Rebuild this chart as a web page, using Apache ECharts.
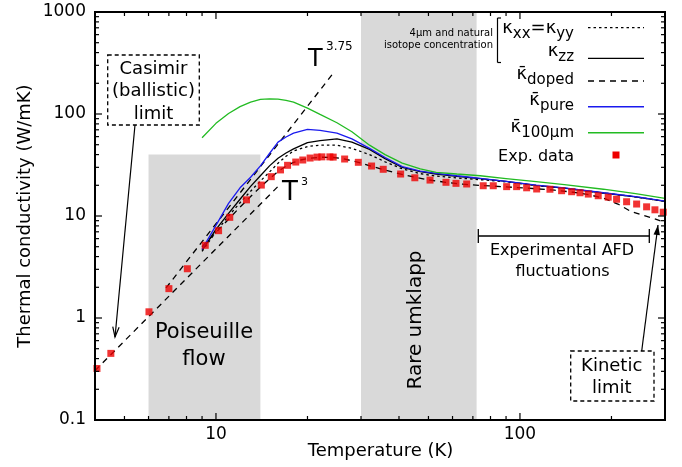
<!DOCTYPE html>
<html>
<head>
<meta charset="utf-8">
<script src="https://cdn.jsdelivr.net/npm/echarts@6/dist/echarts.min.js"></script>
<style>
  html, body { margin: 0; padding: 0; background: #fff; }
  #chart { width: 682px; height: 467px; }
</style>
</head>
<body>
<div id="chart"></div>
<script>
const FONT = '"DejaVu Sans", "Liberation Sans", sans-serif';

// Axis extents (log scales)
const xMin = 4, xMax = 300;
const yMin = 0.1, yMax = 1000;

// Measured thermal conductivity
const expT = [4.06, 4.51, 6.02, 7.0, 8.05, 9.22, 10.2, 11.1, 12.6, 14.1, 15.2, 16.3, 17.2, 18.3, 19.3,
  20.4, 21.5, 22.3, 23.7, 24.3, 26.5, 29.4, 32.5, 35.5, 40.5, 45.1, 50.6, 57.1, 61.6, 66.8, 75.7,
  81.7, 90.4, 97.5, 105.2, 113.5, 125.5, 137.1, 147.9, 157.6, 167.8, 180.9, 195.1, 207.9, 224.3,
  242, 261, 278, 296];
const expK = [0.32, 0.45, 1.15, 1.94, 3.04, 5.16, 7.18, 9.7, 14.4, 20.1, 24.3, 28.3, 31.4, 33.8, 35.4,
  37.0, 37.8, 38.0, 38.0, 37.8, 36.2, 33.6, 30.9, 28.7, 25.8, 23.7, 22.5, 21.4, 20.9, 20.6, 19.8,
  19.8, 19.4, 19.4, 18.9, 18.4, 18.3, 17.7, 17.3, 16.9, 16.4, 15.8, 15.3, 14.6, 13.8,
  13.1, 12.3, 11.5, 10.9];

// Computed conductivities
const curveT = [9, 10, 11, 12, 13, 14, 15, 16, 17, 18, 20, 22, 25, 28, 32, 36, 41, 47, 53, 62, 74, 90, 113, 140, 188, 240, 300];
const kappaXX   = [4.5, 7.0, 10.0, 13.5, 17.5, 22.0, 27.0, 32.9, 38.5, 43.5, 48.0, 49.5, 49.5, 46.0, 40.0, 34.0, 29.0, 26.0, 24.6, 23.6, 22.7, 21.6, 19.9, 18.7, 16.8, 15.4, 13.9];
const kappaZZ   = [4.6, 7.4, 10.6, 14.6, 19.5, 24.8, 31.0, 36.8, 41.5, 45.5, 52.5, 54.8, 57.0, 53.0, 45.0, 36.5, 30.0, 27.2, 25.8, 24.5, 23.2, 21.8, 20.0, 18.8, 16.8, 15.4, 13.9];
const kappaPure = [4.7, 8.1, 13.3, 18.9, 24.0, 31.0, 41.0, 53.0, 59.5, 65.0, 70.8, 69.0, 65.0, 57.0, 46.0, 37.5, 30.5, 27.6, 26.2, 24.8, 23.4, 21.9, 20.1, 18.9, 16.9, 15.5, 14.0];
const kappa100  = [58.6, 81, 101, 118, 131, 139, 141, 140, 136, 131, 114, 99, 82, 67, 49.5, 40, 33, 29, 26.8, 25.8, 24.8, 23.3, 21.7, 20.3, 18.3, 16.6, 14.9];
const dopedT    = [9, 10, 11, 12, 13, 14, 15, 16, 17, 18, 19, 20, 22, 24, 26, 28, 30, 33, 36, 40, 45, 50, 57, 65, 75, 90, 110, 130, 150, 170, 190, 210, 230, 250, 270, 300];
const kappaDoped = [5.0, 6.9, 9.3, 12.2, 15.5, 19.2, 23.2, 27.3, 30.8, 33.5, 35.4, 36.6, 37.7, 37.6, 36.6, 34.8, 33.0, 30.3, 28.2, 26.0, 24.0, 22.6, 21.4, 20.5, 19.9, 19.3, 18.6, 17.9, 17.1, 16.1, 14.8, 13.1, 11.2, 10.3, 9.6, 8.7];

// Power-law guide lines (end points)
const guideT3   = [[4, 0.305], [16, 19.5]];
const guideT375 = [[6.85, 1.97], [24.3, 251]];

// Shaded regimes: [T start, T end, upper conductivity]
const poiseuilleBand = [6, 14, 40];
const umklappBand = [30, 72, 1000];

// Tick positions
const xMajorTicks = [10, 100];
const xMinorTicks = [5, 6, 7, 8, 9, 20, 30, 40, 50, 60, 70, 80, 90, 200];
const yMajorTicks = [1, 10, 100];
const yMinorTicks = [0.2, 0.3, 0.4, 0.5, 0.6, 0.7, 0.8, 0.9, 2, 3, 4, 5, 6, 7, 8, 9,
  20, 30, 40, 50, 60, 70, 80, 90, 200, 300, 400, 500, 600, 700, 800, 900];

const pairs = (xs, ys) => xs.map((x, i) => [x, ys[i]]);
const isDecade = v => Math.abs(Math.log10(v) - Math.round(Math.log10(v))) < 1e-6;

const chart = echarts.init(document.getElementById('chart'), null, { renderer: 'canvas' });

function renderBands(params, api) {
  const p0 = api.coord([api.value(0), api.value(2)]);
  const p1 = api.coord([api.value(1), yMin]);
  return {
    type: 'rect',
    shape: { x: p0[0], y: p0[1], width: p1[0] - p0[0], height: p1[1] - p0[1] },
    style: { fill: '#d9d9d9' }
  };
}

function renderFrame(params, api) {
  const [xl, yb] = api.coord([xMin, yMin]);
  const [xr, yt] = api.coord([xMax, yMax]);
  const kids = [];
  const seg = (a, b, c, d) => kids.push({
    type: 'line', shape: { x1: a, y1: b, x2: c, y2: d },
    style: { stroke: '#000', lineWidth: 1.2 }
  });
  const xt = (t, len) => { const x = api.coord([t, 1])[0]; seg(x, yb, x, yb - len); seg(x, yt, x, yt + len); };
  const yt_ = (v, len) => { const y = api.coord([10, v])[1]; seg(xl, y, xl + len, y); seg(xr, y, xr - len, y); };
  xMajorTicks.forEach(t => xt(t, 7));
  xMinorTicks.forEach(t => xt(t, 4));
  yMajorTicks.forEach(v => yt_(v, 7));
  yMinorTicks.forEach(v => yt_(v, 4));
  kids.push({
    type: 'rect', shape: { x: xl, y: yt, width: xr - xl, height: yb - yt },
    style: { fill: 'none', stroke: '#000', lineWidth: 2 }
  });
  return { type: 'group', children: kids };
}

const lineSeries = (name, data, color, dash, z) => ({
  name, type: 'line', data, showSymbol: false, symbol: 'none', z: z || 3,
  lineStyle: { color, width: 1.3, type: dash || 'solid' },
  silent: true
});

// text measuring for legend layout
const measureCtx = document.createElement('canvas').getContext('2d');
function textW(str, size) {
  measureCtx.font = size + 'px ' + FONT;
  return measureCtx.measureText(str).width;
}
function txt(str, x, y, size, align, extra) {
  return Object.assign({
    type: 'text', x, y, z: 100,
    style: { text: str, font: size + 'px ' + FONT, fill: '#000', align: align || 'center', verticalAlign: 'middle' }
  }, extra || {});
}
// builds a label from pieces [text, size, subscript?], right-aligned at rightX with main baseline baseY
function composite(pieces, rightX, baseY) {
  const widths = pieces.map(p => textW(p[0], p[1]));
  let x = rightX - widths.reduce((a, b) => a + b, 0);
  return pieces.map((p, i) => {
    const base = baseY + (p[2] ? 5 : 0);
    const el = txt(p[0], x, base - 0.3 * p[1], p[1], 'left');
    x += widths[i];
    return el;
  });
}
function seg(x1, y1, x2, y2, dash, w) {
  return { type: 'line', z: 100, shape: { x1, y1, x2, y2 },
    style: { stroke: '#000', lineWidth: w || 1.2, lineDash: dash || null } };
}
function arrow(x0, y0, x1, y1, filled) {
  const a = Math.atan2(y1 - y0, x1 - x0);
  const L = 10, W = 3.2;
  const bx = x1 - L * Math.cos(a), by = y1 - L * Math.sin(a);
  const px = -Math.sin(a) * W, py = Math.cos(a) * W;
  const head = [[bx + px, by + py], [x1, y1], [bx - px, by - py]];
  return [
    seg(x0, y0, x1, y1),
    filled
      ? { type: 'polygon', z: 100, shape: { points: head }, style: { fill: '#000' } }
      : { type: 'polyline', z: 100, shape: { points: head }, style: { stroke: '#000', lineWidth: 1.2, fill: 'none' } }
  ];
}

const KAPPA = '\u03BA', KBAR = '\u03BA\u0304';
const legendRight = 574, sampleX0 = 588, sampleX1 = 644;
const legendEls = [].concat(
  txt('4\u00B5m and natural', 493, 33.5, 10, 'right'),
  txt('isotope concentration', 493, 45.5, 10, 'right'),
  seg(497.5, 18, 497.5, 62.5), seg(497.5, 18, 501, 18), seg(497.5, 62.5, 501, 62.5),
  composite([[KAPPA, 18], ['xx', 15, 1], ['=', 18], [KAPPA, 18], ['yy', 15, 1]], legendRight, 33.3),
  composite([[KAPPA, 18], ['zz', 15, 1]], legendRight, 56.7),
  composite([[KBAR, 18], ['doped', 15, 1]], legendRight, 79.5),
  composite([[KBAR, 18], ['pure', 15, 1]], legendRight, 106),
  composite([[KBAR, 18], ['100\u00B5m', 15, 1]], legendRight, 132.5),
  txt('Exp. data', legendRight, 157.2, 16, 'right'),
  seg(sampleX0, 27.7, sampleX1, 27.7, [2.5, 3], 1.3),
  seg(sampleX0, 58.3, sampleX1, 58.3, null, 1.3),
  seg(sampleX0, 81, sampleX1, 81, [6, 5], 1.3),
  { type: 'line', z: 100, shape: { x1: sampleX0, y1: 106.7, x2: sampleX1, y2: 106.7 }, style: { stroke: '#1a1aee', lineWidth: 1.5 } },
  { type: 'line', z: 100, shape: { x1: sampleX0, y1: 132.7, x2: sampleX1, y2: 132.7 }, style: { stroke: '#22bb22', lineWidth: 1.5 } },
  { type: 'rect', z: 100, shape: { x: 612.5, y: 151.5, width: 7, height: 7 }, style: { fill: '#ee0000' } }
);

const annotationEls = [].concat(
  // axis titles
  txt('Temperature (K)', 380.5, 451, 18, 'center'),
  txt('Thermal conductivity (W/mK)', 25.6, 216, 18, 'center', { rotation: Math.PI / 2 }),
  // regime labels
  txt('Poiseuille', 204, 332.7, 21, 'center'),
  txt('flow', 204, 359.7, 21, 'center'),
  txt('Rare umklapp', 416, 320, 20, 'center', { rotation: Math.PI / 2 }),
  // power-law labels
  txt('T', 308, 59.5, 24, 'left'),
  txt('3.75', 326, 47.1, 12, 'left'),
  txt('T', 282, 192.9, 26, 'left'),
  txt('3', 301, 181.7, 11, 'left'),
  // Casimir limit box
  { type: 'rect', z: 100, shape: { x: 107.7, y: 55, width: 91.6, height: 70 },
    style: { fill: '#fff', stroke: '#000', lineWidth: 1.3, lineDash: [4, 3] } },
  txt('Casimir', 153.5, 69.6, 18, 'center'),
  txt('(ballistic)', 153.5, 91.6, 18, 'center'),
  txt('limit', 153.5, 114.6, 18, 'center'),
  arrow(135, 125, 115, 337, false),
  // kinetic limit box
  { type: 'rect', z: 100, shape: { x: 570.7, y: 351, width: 83.3, height: 50 },
    style: { fill: '#fff', stroke: '#000', lineWidth: 1.3, lineDash: [4, 3] } },
  txt('Kinetic', 611.7, 366.3, 18, 'center'),
  txt('limit', 611.7, 388, 18, 'center'),
  arrow(641.7, 351, 658, 225, true),
  // AFD fluctuation range
  seg(478.3, 236, 649.3, 236, null, 1.3),
  seg(478.3, 229, 478.3, 243, null, 1.3),
  seg(649.3, 229, 649.3, 243, null, 1.3),
  txt('Experimental AFD', 562, 251, 16, 'center'),
  txt('fluctuations', 562.5, 271.9, 16, 'center')
);

chart.setOption({
  animation: false,
  backgroundColor: '#fff',
  grid: { left: 95, top: 12, width: 570, height: 408, containLabel: false },
  xAxis: {
    type: 'log', logBase: 10, min: xMin, max: xMax,
    axisLine: { show: false }, axisTick: { show: false }, splitLine: { show: false },
    axisLabel: {
      margin: 6, color: '#000', fontSize: 17, fontFamily: FONT,
      showMinLabel: true, showMaxLabel: true,
      formatter: v => (isDecade(v) && v > xMin && v < xMax) ? String(Math.round(v)) : ''
    }
  },
  yAxis: {
    type: 'log', logBase: 10, min: yMin, max: yMax,
    axisLine: { show: false }, axisTick: { show: false }, splitLine: { show: false },
    axisLabel: {
      margin: 9, color: '#000', fontSize: 17, fontFamily: FONT,
      showMinLabel: true, showMaxLabel: true,
      formatter: v => isDecade(v) ? String(+v.toPrecision(6)) : ''
    }
  },
  series: [
    {
      name: 'bands', type: 'custom', z: 1, silent: true,
      renderItem: renderBands,
      encode: { x: [0, 1], y: 2 },
      data: [poiseuilleBand, umklappBand]
    },
    lineSeries('T3', guideT3, '#000', [6, 5]),
    lineSeries('T3.75', guideT375, '#000', [6, 5]),
    lineSeries('kxx', pairs(curveT, kappaXX), '#000', [2.5, 3]),
    lineSeries('kzz', pairs(curveT, kappaZZ), '#000'),
    lineSeries('doped', pairs(dopedT, kappaDoped), '#000', [6, 5]),
    lineSeries('pure', pairs(curveT, kappaPure), '#1a1aee'),
    lineSeries('100um', pairs(curveT, kappa100), '#22bb22'),
    {
      name: 'exp', type: 'scatter', z: 5, silent: true,
      symbol: 'rect', symbolSize: 7,
      itemStyle: { color: '#ee0000' },
      data: pairs(expT, expK)
    },
    {
      name: 'frame', type: 'custom', z: 10, silent: true,
      renderItem: renderFrame,
      data: [[10, 1]]
    }
  ],
  graphic: { elements: legendEls.concat(annotationEls) }
});
</script>
</body>
</html>
